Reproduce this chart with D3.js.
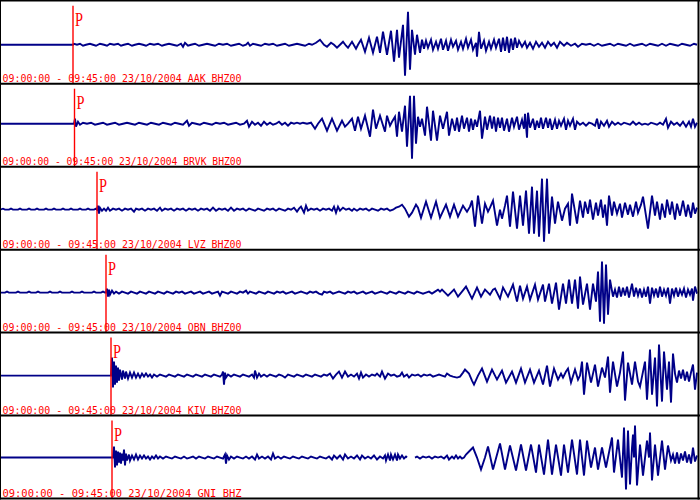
<!DOCTYPE html>
<html><head><meta charset="utf-8">
<script src="https://cdn.jsdelivr.net/npm/d3@7"></script>
<style>html,body{margin:0;padding:0;background:#fff;} svg{display:block}</style>
</head><body><svg id="chart" width="700" height="500"></svg>
<script>
// ---- data ----
const stations = ["AAK", "BRVK", "LVZ", "OBN", "KIV", "GNI"];
const channels = ["BHZ00", "BHZ00", "BHZ00", "BHZ00", "BHZ00", "BHZ"];
const startTime = "09:00:00", endTime = "09:45:00", dateLabel = "23/10/2004";
const totalSeconds = 2700;          // 09:00:00 -> 09:45:00
const nSamples = 697;               // decimated samples across the window
const pickSample = [73, 74.5, 97, 106, 111, 112];   // P arrival (sample index)
const dcOffset = [-1, 3, 0, 0, 0, 1];                // trace mean offset (counts)

// waveform turning points: [sample index, amplitude]
const AAK = [[0,0],[73,0],[74,1],[77,0],[80,1],[83,-1],[86,0],[90,1],[93,0],[96,-1],[100,1],[104,0],[107,-1],[110,1],[114,0],[118,1],[121,-1],[124,0],[128,1],[132,-1],[135,0],[139,1],[143,0],[146,-1],[150,1],[154,0],[158,1],[162,-1],[165,0],[169,1],[173,0],[177,-1],[181,1],[183,-2],[185,2],[188,-1],[191,0],[195,1],[199,-1],[203,0],[207,1],[211,0],[215,-1],[219,1],[223,0],[227,1],[231,-1],[235,0],[239,1],[243,-1],[246,0],[248,2],[250,-1],[253,1],[257,0],[261,-1],[265,1],[269,0],[273,1],[277,-1],[281,0],[285,1],[289,-1],[293,0],[297,1],[301,0],[305,-1],[309,1],[312,0],
[316,2],[320,5],[324,0],[327,-2],[331,2],[334,0],[337,-3],[340,0],[343,3],[346,-1],[348,-3],[352,3],[356,-4],[358,0],[361,5],[365,-7],[369,7],[373,-8],[377,8],[380,-8],[383,13],[387,-10],[391,14],[394,-17],[397,15],[399,-13],[403,20],[405,-31],[408,33],[410,-25],[412,15],[415,-10],[417,10],[420,-8],[422,5],
[424,-4],[426,4],[428,-3],[431,5],[433,-5],[436,3],[438,-4],[441,6],[443,-5],[446,4],[448,-6],[451,5],[453,-2],[456,4],[458,-5],[461,3],[463,-4],[466,6],[468,-3],[471,5],[473,-5],[476,2],[477,-12],[479,13],[481,-4],[484,4],[486,-6],[489,3],[491,-4],[494,5],[496,-3],[499,6],
[501,-7],[503,7],[505,-6],[507,8],[509,-8],[511,6],[513,-5],[515,7],[517,-3],[519,4],[522,-2],[525,3],[527,-3],[530,2],[533,-4],[536,3],[539,-2],[542,2],[545,-3],[548,3],[551,-1],[554,2],[557,-3],[560,3],
[564,-1],[567,2],[571,-1],[575,1],[578,-2],[582,1],[586,0],[590,1],[594,-1],[598,1],[602,-1],[606,0],[610,1],[614,-1],[618,1],[622,0],[626,-1],[630,1],[634,-1],[638,0],[642,1],[646,-1],[650,1],[654,0],[658,-1],[662,1],[666,-1],[670,1],[674,0],[678,-1],[682,1],[686,0],[690,-1],[694,1],[697,0]];

const BRVK = [[0,0],[74,0],[75,5],[76,-3],[78,2],[80,-1],[83,1],[87,0],[91,1],[95,-1],[99,0],[103,1],[107,-1],[111,0],[115,1],[119,-1],[123,0],[127,1],[131,0],[135,-1],[139,1],[143,0],[147,-1],[151,1],[155,0],[159,-1],[163,1],[167,0],[171,-1],[175,1],[179,0],[183,-1],[187,3],[189,-2],[192,1],[196,0],[200,-1],[204,1],[208,0],[212,-1],[216,1],[220,0],[224,1],[228,-1],[232,0],[236,1],[240,-1],[244,0],[247,3],[249,-3],[252,2],[255,-1],[258,1],[261,-2],[264,2],[267,-1],[270,1],[273,-1],[276,0],[279,2],[282,-1],[285,1],[288,-2],[291,1],[294,0],[297,1],[300,0],
[303,1],[307,0],[311,1],[315,-5],[318,0],[322,5],[327,-7],[332,5],[337,-7],[342,3],[345,-3],[348,0],[352,5],[355,-7],[358,7],[361,-5],[365,8],[370,-13],[373,14],[376,-5],[380,8],[385,-8],[387,8],[390,-2],[392,2],[395,7],[397,-13],[399,12],[402,-8],[405,18],[407,-23],[410,28],[412,-35],[414,28],[416,-20],[418,7],[420,-3],[422,5],[425,-12],[427,17],[431,-17],[433,13],[437,-17],[440,8],[443,-5],[447,12],[449,-12],[452,5],[455,-7],[457,6],[459,-8],[462,8],[464,-5],[467,6],[469,-8],[471,5],[473,-6],[475,4],[477,-3],[480,13],[482,-15],[485,7],[487,-6],[490,8],[492,-5],[494,7],[496,-8],[498,6],[500,-4],
[502,6],[504,-7],[507,5],[509,-8],[512,6],[514,-3],[517,7],[519,-6],[522,4],[524,-5],[525,10],[527,-14],[528,11],[530,-4],[533,5],[535,-6],[537,3],[539,-4],[541,6],[543,-5],[546,6],[548,-4],[550,5],[552,-6],[555,4],[557,-5],[559,3],[561,-2],[564,5],[566,-6],[568,3],[570,-2],[573,5],[575,-6],[577,2],[580,-1],
[583,1],[586,-2],[589,1],[592,0],[595,-2],[597,5],[599,-5],[601,2],[604,-2],[607,3],[609,-3],[612,2],[615,-1],[618,1],[621,-1],[624,1],[627,0],[630,-1],[633,2],[636,-1],[639,1],[642,-1],[645,0],[648,-1],[651,1],[654,0],[657,-1],[660,1],[663,-1],[666,5],[668,-4],[671,2],[674,-1],[677,1],[680,-2],[683,2],[686,-3],[689,2],[691,-3],[693,5],[695,-3],[697,1]];

const LVZ = [[0,0],[3,1],[5,0],[9,0],[11,1],[13,0],[18,0],[20,1],[22,0],[27,0],[29,1],[31,0],[35,0],[37,1],[39,0],[44,0],[46,1],[48,0],[52,0],[54,1],[56,0],[61,0],[63,1],[65,0],[69,0],[71,1],[73,0],[78,0],[80,1],[82,0],[86,0],[88,1],[90,0],[94,0],[96,1],[97,0],
[98,4],[99,-4],[100,2],[102,-1],[104,1],[106,-1],[108,2],[110,-1],[113,1],[116,0],[119,1],[122,-1],[125,1],[128,0],[131,1],[134,-2],[136,1],[139,0],[142,1],[145,-1],[148,1],[151,0],[154,1],[157,-1],[160,2],[162,-1],[165,1],[168,0],[171,1],[174,-1],[177,1],[180,0],[183,1],[186,-1],[189,1],[192,0],[195,1],[198,-1],[201,1],[204,0],[207,1],[210,-1],[213,2],[216,-1],[219,1],[222,0],[225,1],[228,-1],[231,2],[234,-1],[237,1],[240,0],[243,1],[246,-1],[249,1],[252,0],[255,-1],[258,1],[261,0],[264,-1],[267,1],[270,0],[273,1],[276,-1],[279,1],[282,0],[285,-1],[288,1],[291,0],[294,2],[297,-2],[299,1],[301,3],[304,-3],[306,4],[308,-1],[311,1],[314,0],[317,1],[320,-1],[323,1],[326,0],[329,1],[332,-1],[334,3],[336,-3],[338,3],[340,-1],[343,2],[346,0],[349,1],
[352,-1],[354,1],[357,-1],[360,1],[363,0],[366,1],[369,-1],[372,1],[375,0],[378,-1],[381,1],[384,0],[387,1],[390,-1],[393,0],[396,2],[399,3],[402,5],[405,1],[409,-7],[412,-3],[416,5],[418,2],[421,-8],[426,8],[431,-8],[436,8],[440,-8],[446,5],[450,-7],[454,5],[458,-7],[463,4],[467,-2],[470,3],[472,9],[475,-17],[478,14],[482,-14],[485,6],[488,-2],[490,2],[493,9],[497,-16],[500,0],[502,-9],[505,4],[507,14],[510,-17],[513,18],[517,-19],[520,14],[523,-16],[526,19],[529,-24],[532,23],[534,-24],[537,19],[539,-27],[542,31],[544,-32],[547,31],[549,-24],[552,13],[555,-14],[558,8],[562,-11],[565,1],[568,6],[570,-16],[572,16],[575,-2],[577,-14],[580,9],[583,-8],[585,8],[588,-4],[590,10],[593,-10],[596,7],[598,-6],[601,10],[603,-8],[605,5],[607,-16],[609,14],[612,-6],[614,8],[617,-4],[620,6],[622,-8],[625,7],[628,-5],[630,5],[633,-7],[636,8],[638,-3],[641,5],[643,13],[648,-19],[652,14],[655,-6],[657,8],[660,-10],[662,6],[665,-8],[667,10],[670,-5],[672,8],[675,-10],[677,6],[680,-6],[683,9],[686,-7],[688,5],[691,-8],[693,7],[695,-4],[697,2]];

const OBN = [[0,0],[5,0],[7,1],[9,0],[16,0],[18,1],[20,0],[27,0],[29,1],[31,0],[36,0],[38,1],[40,0],[48,0],[50,1],[52,0],[58,0],[60,1],[62,0],[70,0],[72,1],[74,0],[80,0],[82,1],[84,0],[92,0],[94,1],[96,0],[101,0],[103,1],[105,0],[106,0],
[107,4],[108,-4],[109,3],[110,-2],[112,2],[114,-1],[116,1],[119,-1],[122,1],[125,0],[128,-1],[131,1],[134,0],[137,-1],[140,1],[143,0],[146,-1],[149,1],[152,0],[155,-1],[158,1],[161,0],[164,-1],[167,1],[170,0],[173,-1],[176,1],[179,0],[182,1],[185,-1],[188,0],[191,1],[194,-1],[197,0],[200,1],[203,-1],[206,0],[209,1],[212,-1],[215,0],[218,1],[220,-3],[222,1],[225,0],[228,-1],[231,1],[234,0],[237,-1],[240,1],[243,0],[246,2],[248,-1],[250,1],[253,0],[256,-1],[259,1],[262,0],[265,-1],[268,1],[271,0],[274,-1],[277,1],[280,0],[283,1],[286,-1],[289,0],[292,1],[295,-1],[298,0],[301,1],[304,0],[307,-1],[310,1],[313,0],[316,1],[319,-1],[322,-2],[324,1],[327,0],[330,1],[333,-1],[336,0],[339,1],[342,0],[345,-1],[348,1],
[351,0],[354,1],[357,-1],[360,0],[363,1],[366,-1],[369,0],[372,1],[375,-1],[378,0],[381,1],[384,0],[387,-1],[390,1],[393,0],[396,-1],[399,1],[402,0],[405,-1],[408,1],[411,0],[414,-1],[417,1],[420,0],[423,-1],[426,0],[429,1],[432,-1],[435,1],[438,3],[440,1],[442,3],[445,0],[448,-3],[451,0],[454,3],[458,-4],[462,1],[466,6],[472,-6],[477,5],[481,-4],[485,3],[488,0],[490,-2],[493,3],[495,4],[500,-6],[503,5],[508,-4],[513,8],[517,-9],[520,7],[523,-6],[527,6],[530,-7],[535,8],[538,-7],[543,8],[545,-9],[549,9],[552,-11],[556,10],[559,-17],[563,9],[566,-11],[569,13],[572,-11],[575,13],[578,-16],[580,16],[583,-12],[587,9],[590,-17],[593,9],[596,-9],[598,21],[600,-29],[602,31],[604,-31],[606,28],[608,-22],[610,13],[613,-4],[615,3],[617,-5],[619,6],[621,-4],[623,5],[625,-3],[627,6],[629,-5],[632,9],[634,-4],[636,5],[638,-3],[640,4],[642,-5],[644,3],[646,-4],[648,6],[650,-11],[652,5],[654,-3],[656,4],[658,-5],[660,6],[662,-4],[664,3],[666,-3],[668,5],[670,-11],[672,4],[674,-3],[676,5],[678,-4],[680,3],[682,-2],[684,4],[686,-5],[688,3],[690,-2],[692,4],[693,-8],[695,6],[697,-1]];

const KIV = [[0,0],[111,0],[112,18],[113,-12],[114,14],[115,-9],[116,10],[117,-7],[118,8],[119,-5],[120,6],[122,-4],[123,5],[125,-3],[126,4],[128,-3],[130,3],[132,-2],[134,3],[136,-2],[138,2],[140,-2],[142,2],[144,-1],[146,2],[148,-1],[150,1],[152,-2],[154,1],[157,-1],[160,1],[163,0],[166,-1],[169,1],[172,0],[175,-1],[178,1],[181,0],[184,-1],[187,1],[190,0],[193,-1],[196,1],[199,0],[202,-1],[205,1],[208,0],[211,-1],[214,1],[217,0],[220,-1],[222,1],[223,4],[224,-9],[225,3],[226,-2],[228,1],[231,-1],[234,1],[237,0],[240,-1],[243,1],[246,0],[249,-1],[252,1],[254,-2],[255,5],[257,-2],[259,2],[261,-1],[264,1],[267,-1],[270,1],[273,0],[276,-1],[279,1],[282,0],[285,-2],[288,1],[291,0],[294,-1],[297,1],[300,0],[303,-1],[306,1],[309,0],[312,-1],[315,1],[318,0],[321,-1],[324,1],[327,0],[330,2],[333,-3],[336,1],[339,4],[342,-2],[345,4],[348,-1],
[351,1],[354,-1],[357,2],[359,-3],[361,3],[363,-2],[366,1],[369,-1],[372,1],[375,0],[377,2],[380,-1],[382,4],[385,-3],[388,2],[391,0],[394,1],[397,-1],[400,0],[402,3],[404,-1],[407,1],[409,-2],[412,1],[415,0],[418,1],[421,-1],[424,1],[427,0],[430,1],[433,-1],[436,0],[439,1],[442,0],[445,-1],[447,2],[450,0],[453,-1],[457,-2],[460,-1],[463,3],[465,6],[469,2],[472,-5],[474,-9],[478,0],[482,7],[487,-6],[492,6],[497,-4],[502,5],[506,-7],[512,4],[516,-7],[521,7],[525,-7],[530,6],[534,-7],[539,5],[543,-9],[547,10],[550,-11],[554,7],[558,-4],[561,2],[563,-2],[566,4],[568,7],[571,-7],[575,6],[578,-4],[580,0],[582,14],[584,-19],[587,13],[591,-7],[595,11],[598,-11],[602,8],[605,-2],[608,19],[610,-17],[613,14],[617,-11],[620,3],[623,24],[625,-25],[628,13],[632,-9],[635,14],[638,-6],[640,-11],[643,4],[645,14],[647,-24],[650,26],[652,-19],[655,18],[657,-31],[659,31],[662,-26],[664,24],[667,-14],[669,14],[671,-27],[673,22],[675,2],[677,-7],[679,5],[681,-3],[683,6],[685,-5],[687,4],[689,-6],[691,3],[693,11],[695,-14],[697,3]];

const GNI = [[0,0],[113,0],[114,11],[115,-10],[116,7],[117,-8],[118,6],[119,-5],[120,5],[121,-6],[122,4],[123,-3],[124,8],[125,-8],[126,4],[127,-3],[129,3],[130,-3],[132,2],[134,-2],[136,3],[138,-2],[140,2],[142,-1],[144,2],[146,-1],[148,1],[150,-2],[152,1],[154,-1],[156,2],[158,-1],[160,1],[163,-1],[166,1],[169,0],[172,-1],[175,1],[178,0],[181,-1],[184,1],[187,-1],[190,0],[193,1],[196,-1],[199,1],[202,0],[205,-1],[208,1],[211,0],[214,-1],[217,1],[220,0],[223,-1],[225,3],[226,-6],[227,2],[229,-2],[231,1],[234,-1],[237,1],[240,0],[243,-1],[246,1],[249,-1],[252,1],[255,-2],[257,3],[259,-1],[262,1],[265,-1],[268,1],[271,-2],[273,4],[275,-1],[278,1],[281,-1],[284,1],[287,0],[290,-1],[293,1],[296,0],[299,-1],[302,1],[305,0],[308,-1],[311,1],[314,0],[317,-1],[320,1],[323,0],[326,-1],[329,1],[332,-2],[334,2],[337,-1],[340,2],[343,-2],[345,3],[348,-1],
[351,1],[354,-1],[357,2],[360,-2],[362,2],[365,-1],[368,1],[371,-1],[374,2],[377,-2],[380,1],[383,-1],[385,2],[386,-3],[388,3],[390,-3],[391,3],[393,-2],[395,3],[397,-3],[398,3],[400,-1],[402,2],[404,-1],[406,1],[407,0],[411,null],[415,0],[417,1],[420,-1],[423,1],[426,0],[429,1],[432,-1],[435,1],[438,0],[441,1],[444,-1],[447,2],[449,-2],[452,1],[454,-1],[456,2],[458,-1],[460,1],[462,-1],[464,0],
[466,3],[470,7],[473,10],[477,0],[481,-12],[485,0],[488,11],[493,-12],[500,14],[505,-12],[510,12],[516,-13],[521,13],[526,-13],[531,13],[536,-15],[539,13],[544,-17],[548,18],[552,-17],[556,13],[561,-18],[564,13],[568,-15],[572,18],[577,-17],[580,18],[584,-18],[587,17],[591,-10],[595,10],[598,-12],[602,10],[606,-10],[609,5],[612,20],[614,-15],[618,18],[622,-20],[624,30],[626,-32],[628,27],[630,-27],[632,10],[633,23],[634,0],[635,32],[637,-28],[640,13],[643,-18],[647,17],[649,0],[650,25],[652,-23],[655,13],[658,-18],[662,17],[665,-12],[668,12],[671,-3],[673,3],[675,-6],[677,5],[679,-6],[681,4],[683,-3],[685,6],[687,-5],[689,3],[691,-6],[693,10],[695,-4],[697,2]];

const traces = [AAK, BRVK, LVZ, OBN, KIV, GNI];

// ---- drawing ----
const W = 700, H = 500;
const svg = d3.select("#chart");
svg.append("rect").attr("width", W).attr("height", H).attr("fill", "#fff");

const dt = totalSeconds / nSamples;
const x = d3.scaleLinear().domain([0, totalSeconds]).range([0, 697]);
const band = d3.scaleBand().domain(stations).range([0.75, 498.5]);
const traceColor = "#000088", pickColor = "#ff0000";

stations.forEach((st, i) => {
  const top = band(st), h = band.step();
  const y = d3.scaleLinear().domain([-40, 40]).range([top + 83, top + 3]);
  const g = svg.append("g").attr("class", "panel");
  const line = d3.line()
    .defined(d => d[1] !== null)
    .x(d => x(d[0] * dt))
    .y(d => y(d[1] + dcOffset[i]));
  g.append("path").datum(traces[i])
    .attr("d", line)
    .attr("fill", "none")
    .attr("stroke", traceColor)
    .attr("stroke-width", 1.9)
    .attr("stroke-linejoin", "miter");

  const px = x(pickSample[i] * dt);
  g.append("line")
    .attr("x1", px).attr("x2", px)
    .attr("y1", top + 5).attr("y2", top + h)
    .attr("stroke", pickColor).attr("stroke-width", 1.4);
  g.append("text")
    .attr("x", px + 2).attr("y", top + 25.5)
    .attr("font-family", "'Liberation Serif', 'DejaVu Serif', serif")
    .attr("font-size", 19)
    .attr("textLength", 8).attr("lengthAdjust", "spacingAndGlyphs")
    .attr("fill", pickColor)
    .text("P");
  g.append("text")
    .attr("x", 2.5).attr("y", top + 81.5)
    .attr("font-family", "'DejaVu Sans Mono', monospace")
    .attr("font-size", 10.5)
    .attr("textLength", 239).attr("lengthAdjust", "spacingAndGlyphs")
    .attr("fill", pickColor)
    .text(`${startTime} - ${endTime} ${dateLabel} ${st} ${channels[i]}`);
});

// frame & separators
const frame = svg.append("g").attr("stroke", "#000").attr("fill", "none");
frame.append("line").attr("x1", 0).attr("x2", W).attr("y1", 0.75).attr("y2", 0.75).attr("stroke-width", 1.5);
frame.append("line").attr("x1", 0.5).attr("x2", 0.5).attr("y1", 0).attr("y2", 499.5).attr("stroke-width", 1);
frame.append("line").attr("x1", 698.5).attr("x2", 698.5).attr("y1", 0).attr("y2", 499.5).attr("stroke-width", 2);
frame.selectAll("line.sep").data(stations).join("line").attr("class", "sep")
  .attr("x1", 0).attr("x2", W)
  .attr("y1", d => band(d) + band.step()).attr("y2", d => band(d) + band.step())
  .attr("stroke-width", 2);
</script>
</body></html>
